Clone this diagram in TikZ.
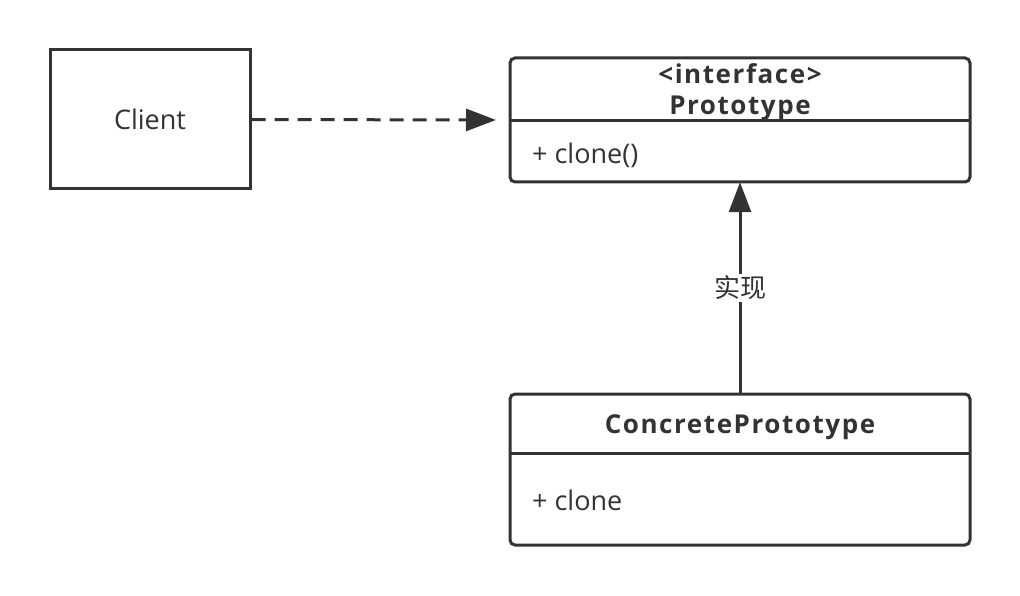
\documentclass[tikz,border=0pt]{standalone}
\usepackage{fontspec}
\setmainfont{Open Sans}
\newfontfamily\cjk{Noto Sans CJK SC}
\newfontfamily\boldsp[LetterSpace=6]{Open Sans Bold}
\usetikzlibrary{arrows.meta}
\definecolor{ink}{HTML}{333333}
\begin{document}
\begin{tikzpicture}[x=1pt,y=-1pt,
  box/.style={draw=ink,line width=3pt,inner sep=0pt},
  rbox/.style={draw=ink,line width=3pt,rounded corners=5pt},
  lbl/.style={text=ink,font=\fontsize{27}{30}\selectfont,inner sep=0pt},
  ttl/.style={text=ink,font=\boldsp\fontsize{26}{30}\selectfont,inner sep=0pt,anchor=base},
  conn/.style={draw=ink,line width=3pt,-{Triangle[length=30pt,width=22pt]}}]
\useasboundingbox[fill=white] (0,0) rectangle (1020,596);
% Client
\node[box,minimum width=200pt,minimum height=139pt] (client) at (150,119.5) {};
\node[lbl,anchor=base] (clientt) at (150,130) {Client};
% Prototype
\draw[rbox] (510,58) rectangle (970,182);
\node[inner sep=0pt,minimum width=460pt,minimum height=124pt] (proto) at (740,120) {};
\draw[ink,line width=3pt] (510,121) -- (970,121);
\node[ttl] (pint) at (740,84) {<interface>};
\node[ttl] (pname) at (740,115) {Prototype};
\node[lbl,anchor=base west] (pclone) at (532,164) {+ clone()};
% Concrete
\draw[rbox] (510,394) rectangle (970,545);
\node[inner sep=0pt,minimum width=460pt,minimum height=151pt] (conc) at (740,469.5) {};
\draw[ink,line width=3pt] (510,453) -- (970,453);
\node[ttl] (cname) at (740,433) {ConcretePrototype};
\node[lbl,anchor=base west] (cclone) at (532,510) {+ clone};
% connectors
\draw[conn,dashed,dash pattern=on 14pt off 9pt] (client.east) -- (496,120) coordinate (ptarget);
\draw[conn] (conc.north) -- node[pos=0.5,fill=white,inner sep=2pt,text=ink,font=\cjk\fontsize{26}{30}\selectfont] (impl) {实现} (proto.south);
\end{tikzpicture}
\end{document}
